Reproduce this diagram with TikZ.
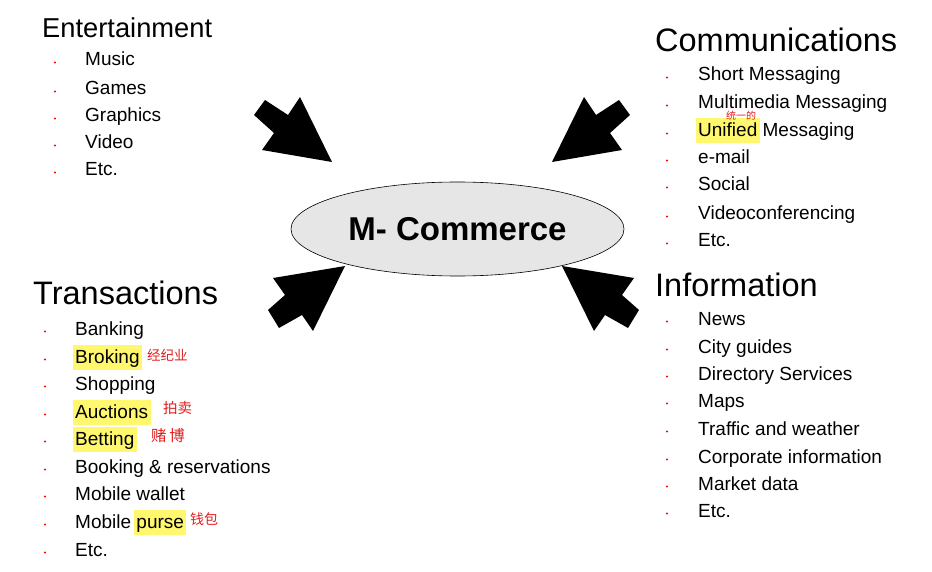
\documentclass[tikz,border=0pt]{standalone}
\usepackage{fontspec}
\setmainfont{Liberation Sans}
\newfontfamily\cjk{Noto Sans CJK SC}
\usetikzlibrary{shapes.geometric}
\definecolor{hly}{RGB}{255,248,110}
\definecolor{annred}{RGB}{225,30,30}
\definecolor{ellfill}{RGB}{230,230,230}
\newcommand\hlbox[1]{{\setlength{\fboxsep}{2.5pt}\hspace*{-2.5pt}\colorbox{hly}{\rule[-4pt]{0pt}{20pt}#1}\hspace*{-2.5pt}}}
\begin{document}
\begin{tikzpicture}[x=1pt,y=-1pt,
  item/.style={anchor=base west, inner sep=0pt, font=\fontsize{19}{23}\selectfont},
  ttl/.style={anchor=base west, inner sep=0pt, font=\fontsize{32.5}{38}\selectfont},
  ann/.style={anchor=base west, inner sep=0pt, text=annred, font=\cjk\fontsize{13.5}{15}\selectfont},
  blockarrow/.style={fill=black, draw=none}]
\useasboundingbox (0,0) rectangle (932,572);

% centre
\node[ellipse, draw, fill=ellfill, minimum width=333pt, minimum height=94pt, inner sep=0pt,
      line width=0.6pt, font=\bfseries\fontsize{33}{38}\selectfont] (mc) at (457.5,229) {M- Commerce};

% block arrows
\fill[blockarrow] (265,100) -- (288,115) -- (300,97) -- (332,162) -- (262,150) -- (274,133) -- (254,115) -- cycle;
\fill[blockarrow] (619,100) -- (596,115) -- (584,97) -- (552,162) -- (622,150) -- (610,133) -- (630,115) -- cycle;
\fill[blockarrow] (345,266) -- (273,278) -- (285,295) -- (268,310) -- (279,328) -- (302,315) -- (313,331) -- cycle;
\fill[blockarrow] (562,266) -- (634,278) -- (622,295) -- (639,310) -- (628,328) -- (605,315) -- (594,331) -- cycle;

% Entertainment
\node[anchor=base west, inner sep=0pt, font=\fontsize{27.3}{32}\selectfont] (ent) at (42,38) {Entertainment};
\foreach \t/\y [count=\i] in {Music/66, Games/95, Graphics/122, Video/149, Etc./176}{
  \node[item] (ent\i) at (85,\y) {\t};
  \fill[red] (55,\y-3.5) circle (1.1pt);
}

% Communications
\node[ttl] (com) at (655,52) {Communications};
\foreach \t/\y [count=\i] in {Short Messaging/81, Multimedia Messaging/109, \hlbox{Unified} Messaging/137, e-mail/164, Social/191, Videoconferencing/220, Etc./247}{
  \node[item] (com\i) at (698,\y) {\t};
  \fill[red] (667,\y-3.5) circle (1.1pt);
}
\node[ann, font=\cjk\fontsize{10}{12}\selectfont] (a5) at (726,120) {统一的};

% Transactions
\node[ttl] (tra) at (33,305) {Transactions};
\foreach \t/\y [count=\i] in {Banking/335, \hlbox{Broking}/363, Shopping/390, \hlbox{Auctions}/418, \hlbox{Betting}/445, Booking \& reservations/473, Mobile wallet/500, Mobile \hlbox{purse}/528, Etc./556}{
  \node[item] (tra\i) at (75,\y) {\t};
  \fill[red] (45,\y-3.5) circle (1.1pt);
}
\node[ann] (a1) at (147,360) {经纪业};
\node[ann, font=\cjk\fontsize{14.5}{16}\selectfont] (a2) at (163,413) {拍卖};
\node[ann, font=\cjk\fontsize{15.5}{17}\selectfont] (a3) at (151,441) {赌\,博};
\node[ann, font=\cjk\fontsize{14}{16}\selectfont] (a4) at (190,524) {钱包};

% Information
\node[ttl] (inf) at (655,296) {Information};
\foreach \t/\y [count=\i] in {News/325, City guides/353, Directory Services/380, Maps/407, Traffic and weather/435, Corporate information/463, Market data/490, Etc./517}{
  \node[item] (inf\i) at (698,\y) {\t};
  \fill[red] (667,\y-3.5) circle (1.1pt);
}
\end{tikzpicture}
\end{document}
